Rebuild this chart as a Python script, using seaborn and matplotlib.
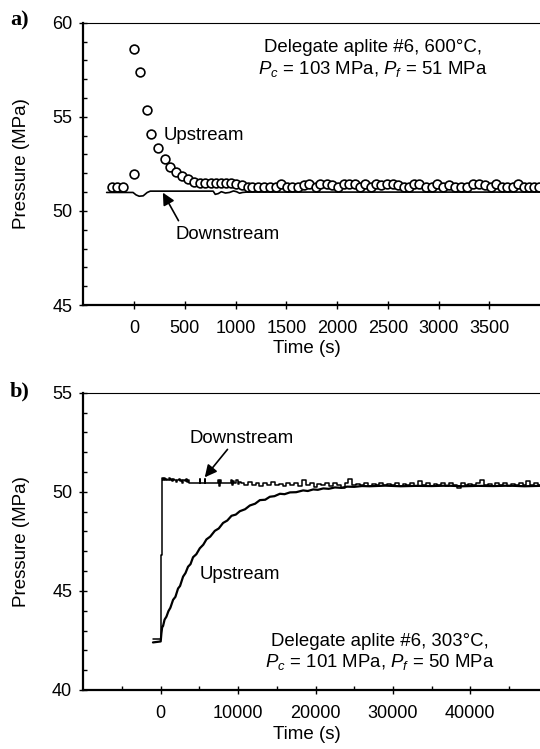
import matplotlib
matplotlib.use("Agg")
import matplotlib.pyplot as plt
import seaborn as sns
import pandas as pd
from matplotlib.ticker import FixedLocator, MultipleLocator

# ---------------- data: panel a (600 C run) ----------------
up_a_t = [-220, -165, -110, 0, 0, 63, 131, 171, 235, 301,
          357, 416, 474, 529, 590, 645, 700, 755, 805, 857,
          906, 955, 1004, 1063, 1118, 1167, 1226, 1281, 1337, 1396,
          1445, 1504, 1559, 1615, 1674, 1723, 1788, 1837, 1902, 1951,
          2010, 2066, 2115, 2180, 2229, 2278, 2337, 2383, 2437, 2494,
          2549, 2598, 2657, 2712, 2761, 2810, 2876, 2931, 2990, 3049,
          3104, 3160, 3219, 3278, 3343, 3399, 3454, 3513, 3562, 3621,
          3677, 3735, 3781, 3840, 3889, 3938, 3990]
up_a_p = [51.29, 51.29, 51.29, 51.96, 58.59, 57.40, 55.36, 54.09, 53.33, 52.74,
          52.35, 52.08, 51.87, 51.70, 51.55, 51.50, 51.48, 51.47, 51.47, 51.47,
          51.47, 51.47, 51.45, 51.35, 51.27, 51.27, 51.27, 51.27, 51.27, 51.27,
          51.42, 51.27, 51.27, 51.27, 51.35, 51.45, 51.27, 51.45, 51.45, 51.35,
          51.27, 51.45, 51.45, 51.45, 51.27, 51.45, 51.27, 51.45, 51.37, 51.45,
          51.45, 51.37, 51.27, 51.27, 51.45, 51.45, 51.27, 51.27, 51.45, 51.27,
          51.37, 51.27, 51.27, 51.27, 51.45, 51.45, 51.37, 51.27, 51.45, 51.27,
          51.27, 51.27, 51.45, 51.27, 51.27, 51.27, 51.27]

dn_a_t = [-270, -10, 20, 50, 90, 130, 160, 780, 800, 830,
          860, 900, 940, 980, 1010, 1040, 1070, 1110, 4000]
dn_a_p = [50.98, 50.98, 50.85, 50.78, 50.80, 50.98, 51.05, 51.05, 50.88, 50.92,
          51.02, 50.95, 50.98, 51.06, 51.02, 50.94, 50.98, 51.00, 51.00]

# ---------------- data: panel b (303 C run) ----------------
up_b_t = [-1000, 0, 90, 200, 300, 500, 740, 1000, 1250, 1600,
          1900, 2240, 2500, 2890, 3200, 3530, 3850, 4180, 4600, 5050,
          5500, 5910, 6400, 6990, 7500, 8060, 8600, 9150, 9700, 10220,
          10900, 11520, 12200, 12810, 13500, 14100, 14700, 15400, 16000, 16700,
          17500, 18400, 19000, 19700, 20300, 21000, 21700, 22500, 23300, 24100,
          25000, 26000, 27000, 29000, 31000, 33000, 35000, 37000, 39000, 41000,
          43000, 45000, 47000, 49000]
up_b_p = [42.40, 42.45, 42.86, 43.20, 43.22, 43.55, 43.70, 43.98, 44.15, 44.55,
          44.70, 45.12, 45.25, 45.72, 45.90, 46.22, 46.35, 46.70, 46.85, 47.15,
          47.33, 47.60, 47.74, 48.03, 48.15, 48.43, 48.55, 48.79, 48.85, 49.02,
          49.12, 49.31, 49.40, 49.58, 49.60, 49.75, 49.78, 49.90, 49.88, 49.97,
          49.98, 50.07, 50.04, 50.12, 50.10, 50.17, 50.15, 50.22, 50.20, 50.26,
          50.25, 50.29, 50.28, 50.31, 50.28, 50.30, 50.29, 50.31, 50.28, 50.30,
          50.29, 50.31, 50.28, 50.30]

dn_b_t = [-1000, 0, 60, 250, 400, 500, 650, 800, 950, 1100,
          1250, 1400, 1550, 1700, 1850, 2000, 2100, 2250, 2400, 2550,
          2700, 2850, 3000, 3150, 3300, 3450, 3600, 3750, 5000, 5050,
          5100, 5700, 5750, 5800, 7400, 7500, 7600, 7700, 7800, 9000,
          9100, 9200, 9400, 9500, 9900, 10000, 10200,
          10500, 11000, 11500, 12000, 12500, 13000, 13500, 14000, 14500, 15000,
          15500, 16000, 16500, 17000, 17500, 18000, 18500, 19000, 19500, 20000,
          20500, 21000, 21500, 22000, 22500, 23000, 23500, 24000, 24500, 25000,
          25500, 26000, 26500, 27000, 27500, 28000, 28500, 29000, 29500, 30000,
          30500, 31000, 31500, 32000, 32500, 33000, 33500, 34000, 34500, 35000,
          35500, 36000, 36500, 37000, 37500, 38000, 38500, 39000, 39500, 40000,
          40500, 41000, 41500, 42000, 42500, 43000, 43500, 44000, 44500, 45000,
          45500, 46000, 46500, 47000, 47500, 48000, 48500, 49000]
dn_b_p = [42.55, 42.55, 46.80, 50.68, 50.62, 50.72, 50.60, 50.66, 50.58, 50.68,
          50.60, 50.65, 50.55, 50.66, 50.62, 50.50, 50.62, 50.58, 50.66, 50.52,
          50.62, 50.45, 50.60, 50.55, 50.64, 50.50, 50.60, 50.43, 50.43, 50.65,
          50.43, 50.43, 50.66, 50.43, 50.43, 50.60, 50.30, 50.58, 50.43, 50.43,
          50.62, 50.35, 50.55, 50.43, 50.60, 50.38, 50.50,
          50.45, 50.32, 50.48, 50.35, 50.42, 50.30, 50.44, 50.36, 50.47, 50.33,
          50.40, 50.28, 50.43, 50.36, 50.45, 50.30, 50.60, 50.34, 50.42, 50.25,
          50.40, 50.33, 50.45, 50.30, 50.42, 50.35, 50.20, 50.44, 50.65, 50.32,
          50.40, 50.36, 50.43, 50.30, 50.41, 50.34, 50.46, 50.32, 50.40, 50.35,
          50.43, 50.29, 50.41, 50.36, 50.44, 50.31, 50.55, 50.35, 50.42, 50.30,
          50.40, 50.33, 50.45, 50.30, 50.42, 50.36, 50.20, 50.43, 50.33, 50.41,
          50.35, 50.45, 50.62, 50.32, 50.40, 50.30, 50.44, 50.36, 50.42, 50.30,
          50.41, 50.35, 50.45, 50.32, 50.55, 50.34, 50.42, 50.36]

xticks_a = [0, 500, 1000, 1500, 2000, 2500, 3000, 3500]
yticks_a = [45, 50, 55, 60]
xticks_b = [0, 10000, 20000, 30000, 40000]
yticks_b = [40, 45, 50, 55]

# ---------------- style ----------------
sns.set_theme(style="ticks")
plt.rcParams["font.family"] = ["Liberation Sans", "DejaVu Sans"]
plt.rcParams.update({
    "mathtext.fontset": "custom",
    "mathtext.rm": "Liberation Sans",
    "mathtext.it": "Liberation Sans:italic",
    "mathtext.bf": "Liberation Sans:bold",
    "xtick.labelsize": 13,
    "ytick.labelsize": 13,
    "axes.labelsize": 13.5,
    "text.color": "black",
    "axes.labelcolor": "black",
})

W, H = 540, 749
fig = plt.figure(figsize=(W / 100, H / 100), dpi=100)


def px_axes(left, top, right, bottom):
    return fig.add_axes([left / W, 1 - bottom / H, (right - left) / W, (bottom - top) / H])


ax_a = px_axes(83.3, 22.7, 540, 305)
ax_b = px_axes(83.3, 392.7, 540, 690)


def style_axes(ax, xlim, ylim, xticks, yticks, xminor=None):
    ax.set_xlim(*xlim)
    ax.set_ylim(*ylim)
    ax.xaxis.set_major_locator(FixedLocator(xticks))
    ax.set_xticklabels([str(t) for t in xticks])
    ax.yaxis.set_major_locator(FixedLocator(yticks))
    ax.set_yticklabels([str(t) for t in yticks])
    ax.yaxis.set_minor_locator(MultipleLocator(1))
    if xminor is not None:
        ax.xaxis.set_minor_locator(FixedLocator(xminor))
    ax.tick_params(which="major", direction="inout", length=6, width=1.0,
                   color="black", labelcolor="black")
    ax.tick_params(axis="x", which="major", pad=8)
    ax.tick_params(axis="y", which="major", pad=5)
    ax.tick_params(which="minor", direction="in", length=3, width=1.0, color="black")
    ax.spines["right"].set_visible(False)
    ax.spines["top"].set_linewidth(0.8)
    ax.spines["left"].set_linewidth(1.6)
    ax.spines["bottom"].set_linewidth(1.6)
    for s in ax.spines.values():
        s.set_color("black")
    ax.set_xlabel("Time (s)")
    ax.set_ylabel("Pressure (MPa)")
    ax.xaxis.label.set_va("center")
    ax.yaxis.label.set_va("center")
    ax.yaxis.set_label_coords(-0.135, 0.5)


# ---------------- panel a ----------------
df_dn_a = pd.DataFrame({"t": dn_a_t, "p": dn_a_p})
df_up_a = pd.DataFrame({"t": up_a_t, "p": up_a_p})
sns.lineplot(data=df_dn_a, x="t", y="p", ax=ax_a, color="black", lw=1.2,
             estimator=None, sort=False, zorder=2)
sns.scatterplot(data=df_up_a, x="t", y="p", ax=ax_a, marker="o", s=40,
                facecolor="white", edgecolor="black", linewidth=1.2, zorder=3)
style_axes(ax_a, (-500, 4000), (45, 60), xticks_a, yticks_a)
ax_a.xaxis.set_label_coords(0.49, -0.153)

ax_a.text(2350, 58.07, "Delegate aplite #6, 600°C,\n$P_c$ = 103 MPa, $P_f$ = 51 MPa",
          ha="center", va="center", fontsize=13.4, linespacing=1.15)
ax_a.text(294, 54.03, "Upstream", ha="left", va="center", fontsize=13.4)
ax_a.text(406, 48.72, "Downstream", ha="left", va="center", fontsize=13.4)
ax_a.annotate("", xy=(284, 50.97), xytext=(438, 49.48),
              arrowprops=dict(arrowstyle="-|>", color="black", lw=1.2,
                              mutation_scale=18, shrinkA=0, shrinkB=0))

# ---------------- panel b ----------------
df_up_b = pd.DataFrame({"t": up_b_t, "p": up_b_p})
df_dn_b = pd.DataFrame({"t": dn_b_t, "p": dn_b_p})
sns.lineplot(data=df_up_b, x="t", y="p", ax=ax_b, color="black", lw=1.6,
             estimator=None, sort=False)
sns.lineplot(data=df_dn_b, x="t", y="p", ax=ax_b, color="black", lw=1.1,
             estimator=None, sort=False, drawstyle="steps-mid")
style_axes(ax_b, (-10000, 49000), (40, 55), xticks_b, yticks_b,
           xminor=[-5000, 5000, 15000, 25000, 35000, 45000])
ax_b.xaxis.set_label_coords(0.49, -0.148)

ax_b.text(28340, 41.9, "Delegate aplite #6, 303°C,\n$P_c$ = 101 MPa, $P_f$ = 50 MPa",
          ha="center", va="center", fontsize=13.4, linespacing=1.15)
ax_b.text(5050, 45.85, "Upstream", ha="left", va="center", fontsize=13.4)
ax_b.text(10440, 52.70, "Downstream", ha="center", va="center", fontsize=13.4)
ax_b.annotate("", xy=(5690, 50.73), xytext=(8630, 52.14),
              arrowprops=dict(arrowstyle="-|>", color="black", lw=1.2,
                              mutation_scale=18, shrinkA=0, shrinkB=0))

for ax in (ax_a, ax_b):
    leg = ax.get_legend()
    if leg is not None:
        leg.remove()

fig.text(10 / W, 1 - 20 / H, "a)", family=["Liberation Serif"], weight="bold",
         fontsize=16, ha="left", va="center")
fig.text(10 / W, 1 - 391 / H, "b)", family=["Liberation Serif"], weight="bold",
         fontsize=16, ha="left", va="center")

fig.savefig("out.png", dpi=100)
